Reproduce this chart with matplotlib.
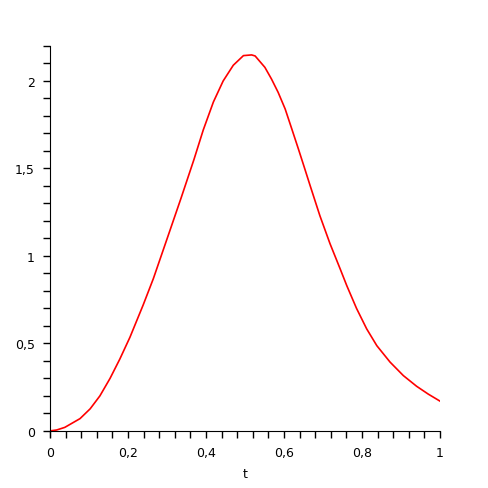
import matplotlib
matplotlib.use("Agg")
import matplotlib.pyplot as plt
from matplotlib.ticker import MultipleLocator, FuncFormatter

# values
t = [0.0, 0.017, 0.038, 0.077, 0.103, 0.128, 0.154, 0.179, 0.205,
     0.239, 0.265, 0.299, 0.336, 0.369, 0.393, 0.419, 0.444, 0.47, 0.496,
     0.517, 0.526, 0.551, 0.568, 0.585, 0.603, 0.62, 0.637, 0.652, 0.667,
     0.692, 0.718, 0.744, 0.761, 0.786, 0.812, 0.838, 0.872, 0.906,
     0.94, 0.97, 1.0]
v = [0.0, 0.005, 0.02, 0.07, 0.126, 0.2, 0.3, 0.41, 0.535,
     0.72, 0.87, 1.09, 1.33, 1.55, 1.72, 1.88, 2.0, 2.09, 2.145,
     2.149, 2.143, 2.078, 2.011, 1.935, 1.84, 1.726, 1.611, 1.507, 1.402,
     1.23, 1.07, 0.926, 0.83, 0.70, 0.583, 0.487, 0.393, 0.316,
     0.255, 0.21, 0.17]

x_ticks = [0, 0.2, 0.4, 0.6, 0.8, 1]
y_ticks = [0, 0.5, 1, 1.5, 2]


def comma(val, pos):
    return ("%g" % val).replace(".", ",")


fig = plt.figure(figsize=(4.89, 4.89), dpi=100)
ax = fig.add_axes([0.1022, 0.1043, 0.7976, 0.7996])
ax.plot(t, v, color="red", lw=1.2)

ax.set_xlim(0, 1)
ax.set_ylim(-0.035, 2.2)
ax.spines["top"].set_visible(False)
ax.spines["right"].set_visible(False)
ax.spines["bottom"].set_position(("data", 0))

ax.set_xticks(x_ticks)
ax.set_yticks(y_ticks)
ax.xaxis.set_minor_locator(MultipleLocator(0.04))
ax.yaxis.set_minor_locator(MultipleLocator(0.1))
ax.xaxis.set_major_formatter(FuncFormatter(comma))
ax.yaxis.set_major_formatter(FuncFormatter(comma))
ax.tick_params(which="both", direction="out", length=5, width=1.0,
               labelsize=9, pad=6)

ax.set_xlabel("t", fontsize=9, labelpad=6)

fig.savefig("out.png", dpi=100)
